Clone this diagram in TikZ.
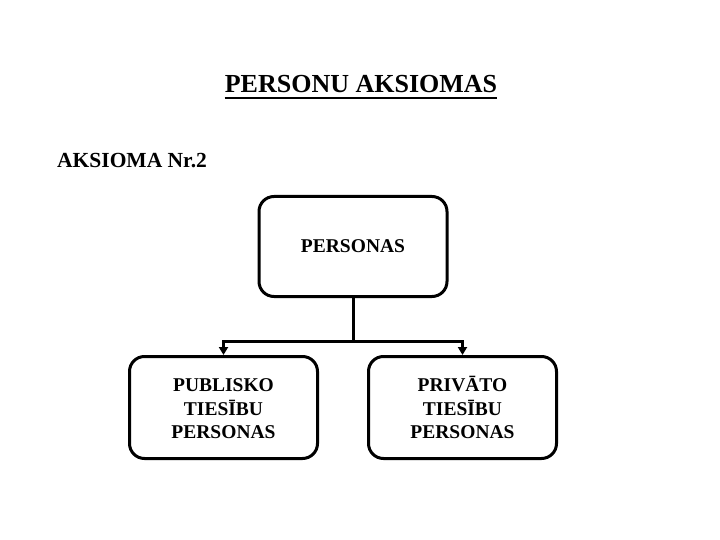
\documentclass[tikz,border=0pt]{standalone}
\usepackage{fontspec}
\setmainfont{Liberation Serif}
\usepackage{tikz}
\usetikzlibrary{positioning,arrows.meta}
\tikzset{
  box/.style={draw, line width=3pt, rounded corners=15pt, minimum width=188pt,
              minimum height=102pt, align=center, inner sep=0pt,
              font=\fontsize{19.5}{23.5}\selectfont\bfseries},
  heading/.style={inner sep=0pt, anchor=base, font=\fontsize{26}{30}\selectfont\bfseries},
  subheading/.style={inner sep=0pt, anchor=base west, font=\fontsize{21.5}{26}\selectfont\bfseries},
  arrow/.style={-{Triangle[length=8pt,width=9pt]}, line width=3pt},
}
\begin{document}
\begin{tikzpicture}[x=1pt, y=1pt]
  \useasboundingbox (0,0) rectangle (720,-540);
  \node[heading] (title) at (361,-93) {PERSONU AKSIOMAS};
  \draw[line width=2pt] ([yshift=-5pt]title.base west) -- ([yshift=-5pt]title.base east);
  \node[subheading] (axiom) at (57,-168) {AKSIOMA Nr.2};

  \node[box, minimum height=100pt] (pers) at (353,-246.5) {PERSONAS};
  \node[box, below=57pt of pers, xshift=-129.5pt] (pub) {\vphantom{\={A}}PUBLISKO\\TIES\={I}BU\\PERSONAS};
  \node[box, below=57pt of pers, xshift=109.5pt] (priv) {PRIV\={A}TO\\TIES\={I}BU\\PERSONAS};

  \draw[line width=3pt] (pers.south) -- ++(0,-43.5) coordinate (split);
  \draw[arrow] (split) -| (pub.north);
  \draw[arrow] (split) -| (priv.north);
\end{tikzpicture}
\end{document}
